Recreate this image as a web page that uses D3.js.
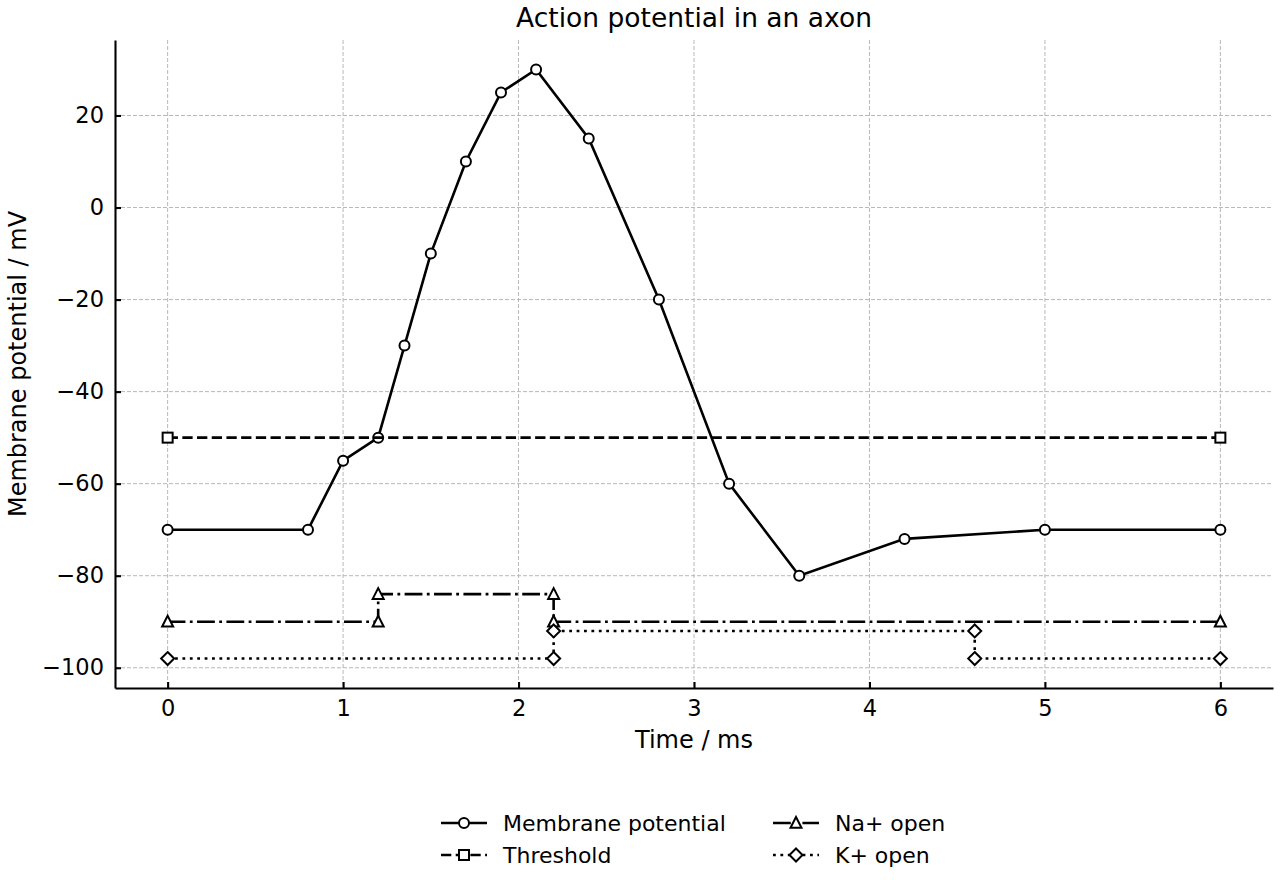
<!DOCTYPE html>
<html>
<head>
<meta charset="utf-8">
<script src="https://cdn.jsdelivr.net/npm/d3@7"></script>
<style>
  body { margin: 0; background: #fff; }
  svg text { font-family: "DejaVu Sans", sans-serif; fill: #000; }
</style>
</head>
<body>
<div id="chart"></div>
<script>
// data
const membraneTime = [0, 0.8, 1.0, 1.2, 1.35, 1.5, 1.7, 1.9, 2.1, 2.4, 2.8, 3.2, 3.6, 4.2, 5, 6]
const membraneMv = [-70, -70, -55, -50, -30, -10, 10, 25, 30, 15, -20, -60, -80, -72, -70, -70]
const thresholdTime = [0, 6]
const thresholdMv = [-50, -50]
const naTime = [0, 1.2, 1.2, 2.2, 2.2, 6]
const naMv = [-90, -90, -84, -84, -90, -90]
const kTime = [0, 2.2, 2.2, 4.6, 4.6, 6]
const kMv = [-98, -98, -92, -92, -98, -98]
const xTicks = [0, 1, 2, 3, 4, 5, 6]
const yTicks = [-100, -80, -60, -40, -20, 0, 20]

const MARGIN = { LEFT: 115, RIGHT: 7, TOP: 40, BOTTOM: 192 }
const W = 1280, H = 880
const WIDTH = W - MARGIN.LEFT - MARGIN.RIGHT
const HEIGHT = H - MARGIN.TOP - MARGIN.BOTTOM

const svg = d3.select("#chart").append("svg")
  .attr("width", W).attr("height", H)

const g = svg.append("g")
  .attr("transform", `translate(${MARGIN.LEFT}, ${MARGIN.TOP})`)

const x = d3.scaleLinear().domain([-0.3, 6.3]).range([0, WIDTH])
const y = d3.scaleLinear().domain([-104.4, 36.4]).range([HEIGHT, 0])

const fmt = d => String(d).replace("-", "\u2212")

// grid
g.append("g").selectAll("line").data(xTicks).join("line")
  .attr("x1", d => x(d)).attr("x2", d => x(d))
  .attr("y1", 0).attr("y2", HEIGHT)
  .attr("stroke", "#b8b8b8").attr("stroke-width", 1)
  .attr("stroke-dasharray", "4,2")
g.append("g").selectAll("line").data(yTicks).join("line")
  .attr("y1", d => y(d)).attr("y2", d => y(d))
  .attr("x1", 0).attr("x2", WIDTH)
  .attr("stroke", "#b8b8b8").attr("stroke-width", 1)
  .attr("stroke-dasharray", "4,2")

// axes (ticks pointing inward)
const xAxis = g.append("g")
  .attr("transform", `translate(0, ${HEIGHT})`)
  .call(d3.axisBottom(x).tickValues(xTicks).tickSizeInner(-6).tickSizeOuter(0).tickPadding(12).tickFormat(fmt))
const yAxis = g.append("g")
  .call(d3.axisLeft(y).tickValues(yTicks).tickSizeInner(-6).tickSizeOuter(0).tickPadding(11).tickFormat(fmt))
;[xAxis, yAxis].forEach(a => {
  a.attr("font-size", null).attr("font-family", null)
  a.select(".domain").attr("stroke", "#000").attr("stroke-width", 2.1)
  a.selectAll(".tick line").attr("stroke", "#000").attr("stroke-width", 2.1)
  a.selectAll(".tick text").style("font-size", "22.5px")
})
xAxis.selectAll(".tick text").attr("dy", "0.71em")

// labels
svg.append("text").attr("x", MARGIN.LEFT + WIDTH / 2).attr("y", 27)
  .attr("text-anchor", "middle").style("font-size", "26.5px")
  .text("Action potential in an axon")
svg.append("text").attr("x", MARGIN.LEFT + WIDTH / 2).attr("y", 748)
  .attr("text-anchor", "middle").style("font-size", "24px")
  .text("Time / ms")
svg.append("text")
  .attr("transform", `translate(26, ${MARGIN.TOP + HEIGHT / 2}) rotate(-90)`)
  .attr("text-anchor", "middle").style("font-size", "24px")
  .text("Membrane potential / mV")

const series = [
  { name: "Membrane potential", t: membraneTime, v: membraneMv, dash: null, marker: "circle" },
  { name: "Threshold", t: thresholdTime, v: thresholdMv, dash: "10.3,4.4", marker: "square" },
  { name: "Na+ open", t: naTime, v: naMv, dash: "17.8,4.4,2.8,4.4", marker: "triangle" },
  { name: "K+ open", t: kTime, v: kMv, dash: "2.8,4.6", marker: "diamond" }
]

const line = d3.line().x(d => x(d[0])).y(d => y(d[1]))

function drawMarker(sel, type, cx, cy) {
  const common = s => s.attr("fill", "#fff").attr("stroke", "#000").attr("stroke-width", 2)
  if (type === "circle") common(sel.append("circle").attr("cx", cx).attr("cy", cy).attr("r", 5))
  else if (type === "square") common(sel.append("rect").attr("x", cx - 5).attr("y", cy - 5).attr("width", 10).attr("height", 10))
  else if (type === "triangle") common(sel.append("path").attr("d", `M${cx},${cy - 6}L${cx + 5.5},${cy + 4.8}L${cx - 5.5},${cy + 4.8}Z`))
  else if (type === "diamond") common(sel.append("path").attr("d", `M${cx},${cy - 6.5}L${cx + 6.5},${cy}L${cx},${cy + 6.5}L${cx - 6.5},${cy}Z`))
}

series.forEach(s => {
  const pts = s.t.map((t, i) => [t, s.v[i]])
  g.append("path").datum(pts).attr("d", line)
    .attr("fill", "none").attr("stroke", "#000").attr("stroke-width", 2.6)
    .attr("stroke-dasharray", s.dash)
  const mg = g.append("g")
  pts.forEach(p => drawMarker(mg, s.marker, x(p[0]), y(p[1])))
})

// legend
const legendPos = [[441, 823], [441, 855], [773, 823], [773, 855]]
series.forEach((s, k) => {
  const [lx, ly] = legendPos[k]
  const lg = svg.append("g")
  lg.append("line").attr("x1", lx).attr("x2", lx + 46).attr("y1", ly).attr("y2", ly)
    .attr("stroke", "#000").attr("stroke-width", 2.6).attr("stroke-dasharray", s.dash)
  drawMarker(lg, s.marker, lx + 23, ly)
  lg.append("text").attr("x", lx + 62).attr("y", ly).attr("dy", "0.35em")
    .style("font-size", "22px").text(s.name)
})
</script>
</body>
</html>
